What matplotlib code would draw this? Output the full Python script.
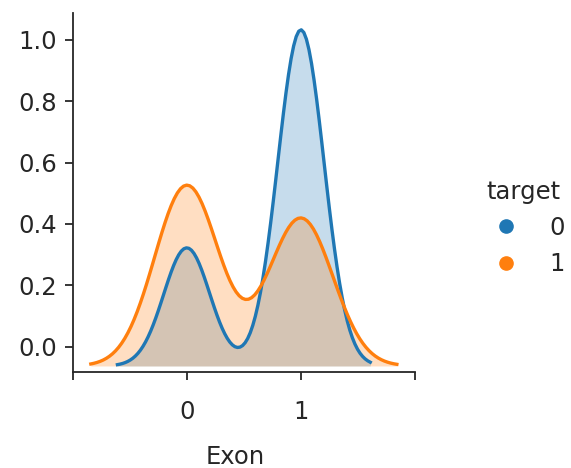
import numpy as np
import matplotlib
matplotlib.use('Agg')
import matplotlib.pyplot as plt
from matplotlib.lines import Line2D

# counts of Exon == 0 / Exon == 1 for each target level
target_levels = ['0', '1']
exon_zero_counts = [13, 11]
exon_one_counts = [37, 9]
colors = ['#1f77b4', '#ff7f0e']

fs = 17.5
plt.rcParams['font.family'] = 'DejaVu Sans'
plt.rcParams['font.size'] = fs
txt = '#262626'

fig = plt.figure(figsize=(5.71, 4.68), dpi=100)
ax = fig.add_axes([0.1273, 0.2051, 0.5995, 0.7671])
ax2 = ax.twinx()
ax2.set_axis_off()


def kde(values, cut=3, gridsize=100):
    values = np.asarray(values, dtype=float)
    bw = values.std(ddof=1) * len(values) ** (-1 / 5)
    grid = np.linspace(values.min() - cut * bw, values.max() + cut * bw, gridsize)
    z = (grid[:, None] - values[None, :]) / bw
    dens = np.exp(-0.5 * z ** 2).sum(axis=1) / (len(values) * bw * np.sqrt(2 * np.pi))
    return grid, dens


dmax = 0
for lvl, n0, n1, c in zip(target_levels, exon_zero_counts, exon_one_counts, colors):
    exon = np.repeat([0, 1], [n0, n1])
    x, y = kde(exon)
    ax2.fill_between(x, 0, y, color=c, alpha=0.25, linewidth=0)
    ax2.plot(x, y, color=c, lw=2.4)
    dmax = max(dmax, y.max())

ax2.set_ylim(-0.018 * dmax, 1.05 * dmax)
ax.set_ylim(-0.083, 1.088)

ax.set_yticks([0.0, 0.2, 0.4, 0.6, 0.8, 1.0])
ax.set_xticks([-1, 0, 1, 2])
ax.set_xticklabels(['', '0', '1', ''])
ax.set_xlim(-1.0, 2.0)
ax2.set_xlim(-1.0, 2.0)

for s in ['top', 'right']:
    ax.spines[s].set_visible(False)
for s in ['left', 'bottom']:
    ax.spines[s].set_linewidth(1.3)
    ax.spines[s].set_color(txt)
ax.tick_params(axis='both', length=6, width=1.3, color=txt, labelcolor=txt)
ax.tick_params(axis='y', pad=5.0)
ax.tick_params(axis='x', pad=14.0)

ax.set_xlabel('Exon', color=txt)
ax.xaxis.set_label_coords(0.474, -0.203)

handles = [Line2D([], [], marker='o', linestyle='none', color=c, markersize=9.5)
           for c in colors]
leg = fig.legend(handles, target_levels, title='target', loc='center left',
                 bbox_to_anchor=(0.805, 0.513), frameon=False,
                 fontsize=fs, title_fontsize=fs)
for t in leg.get_texts():
    t.set_color(txt)
leg.get_title().set_color(txt)

fig.savefig('out.png', dpi=100)
